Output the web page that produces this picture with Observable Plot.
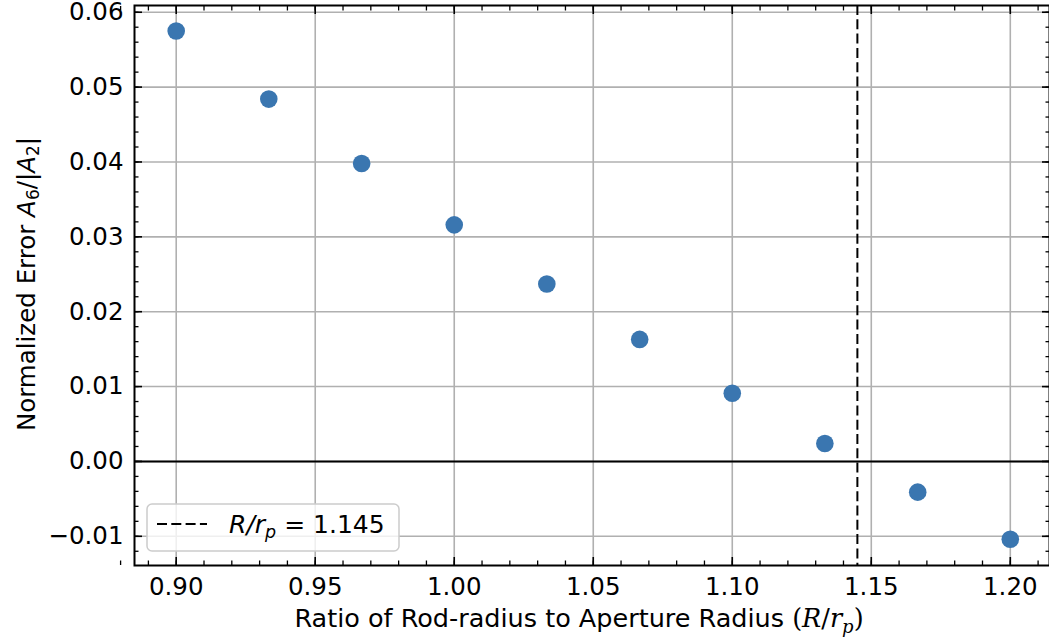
<!DOCTYPE html>
<html>
<head>
<meta charset="utf-8">
<script src="https://cdn.jsdelivr.net/npm/d3@7"></script>
<script src="https://cdn.jsdelivr.net/npm/@observablehq/plot@0.6"></script>
<style>
  html, body { margin: 0; padding: 0; background: #fff; }
  #chart svg { display: block; overflow: visible; }
</style>
</head>
<body>
<div id="chart"></div>
<script>
// ---- data ----
const ratio = [0.9, 0.9333, 0.9667, 1.0, 1.0333, 1.0667, 1.1, 1.1333, 1.1667, 1.2];
const normError = [0.0575, 0.0484, 0.0398, 0.0316, 0.0237, 0.0163, 0.0091, 0.0024, -0.0041, -0.0104];
const xTicks = [0.90, 0.95, 1.00, 1.05, 1.10, 1.15, 1.20];
const yTicks = [-0.01, 0.00, 0.01, 0.02, 0.03, 0.04, 0.05, 0.06];
const threshold = [1.145];
const legendLabel = "= 1.145";

const xMinor = d3.range(88, 122).map(d => d / 100);
const yMinor = d3.range(-6, 31).map(d => d / 500);

const points = ratio.map((r, i) => ({x: r, y: normError[i]}));

const W = 1049, H = 643;
const fontFamily = "DejaVu Sans, sans-serif";
const fmt = d3.format(".2f");
const dash = "10,4.3";

const plot = Plot.plot({
  width: W,
  height: H,
  marginLeft: 134,
  marginRight: 0,
  marginTop: 5,
  marginBottom: 78,
  style: {fontFamily, background: "#fff", color: "#000", overflow: "visible"},
  x: {domain: [0.885, 1.2141], label: null},
  y: {domain: [-0.0139, 0.0609], label: null},
  marks: [
    Plot.ruleX(xTicks, {stroke: "#b0b0b0", strokeWidth: 1.6}),
    Plot.ruleY(yTicks, {stroke: "#b0b0b0", strokeWidth: 1.6}),
    Plot.ruleY([0], {stroke: "#000", strokeWidth: 2}),
    Plot.ruleX(threshold, {stroke: "#000", strokeWidth: 2, strokeDasharray: dash}),
    Plot.dot(points, {x: "x", y: "y", r: 8.8, fill: "#3a76b0", stroke: "none"}),
    // inward minor ticks
    Plot.axisX({anchor: "bottom", ticks: xMinor, tickSize: -4.5, tickFormat: () => "", label: null, strokeWidth: 1.3}),
    Plot.axisX({anchor: "top", ticks: xMinor, tickSize: -4.5, tickFormat: () => "", label: null, strokeWidth: 1.3}),
    Plot.axisY({anchor: "left", ticks: yMinor, tickSize: -4.5, tickFormat: () => "", label: null, strokeWidth: 1.3}),
    Plot.axisY({anchor: "right", ticks: yMinor, tickSize: -4.5, tickFormat: () => "", label: null, strokeWidth: 1.3}),
    // inward major ticks
    Plot.axisX({anchor: "bottom", ticks: xTicks, tickSize: -8, tickFormat: () => "", label: null, strokeWidth: 1.6}),
    Plot.axisX({anchor: "top", ticks: xTicks, tickSize: -8, tickFormat: () => "", label: null, strokeWidth: 1.6}),
    Plot.axisY({anchor: "left", ticks: yTicks, tickSize: -8, tickFormat: () => "", label: null, strokeWidth: 1.6}),
    Plot.axisY({anchor: "right", ticks: yTicks, tickSize: -8, tickFormat: () => "", label: null, strokeWidth: 1.6}),
    // tick labels
    Plot.axisX({anchor: "bottom", ticks: xTicks, tickSize: 0, tickPadding: 12, tickFormat: fmt, label: null, fontSize: 24.5, fill: "#000"}),
    Plot.axisY({anchor: "left", ticks: yTicks, tickSize: 0, tickPadding: 11, tickFormat: fmt, label: null, fontSize: 24.5, fill: "#000"}),
    Plot.frame({stroke: "#000", strokeWidth: 2})
  ]
});

document.getElementById("chart").appendChild(plot);

const svg = d3.select(plot);
const serif = "DejaVu Serif, serif";

// x-axis label with math part
const xl = svg.append("text")
  .attr("x", 579)
  .attr("y", 627)
  .attr("text-anchor", "middle")
  .attr("font-family", fontFamily)
  .attr("font-size", 25.5)
  .attr("fill", "#000");
xl.append("tspan").text("Ratio of Rod-radius to Aperture Radius ");
xl.append("tspan").attr("font-family", serif).text("(");
xl.append("tspan").attr("font-family", serif).attr("font-style", "italic").text("R");
xl.append("tspan").attr("font-family", serif).text("/");
xl.append("tspan").attr("font-family", serif).attr("font-style", "italic").text("r");
xl.append("tspan").attr("font-family", serif).attr("font-style", "italic").attr("font-size", 18).attr("dy", 6).text("p");
xl.append("tspan").attr("font-family", serif).attr("dy", -6).text(")");

// y-axis label
const yl = svg.append("text")
  .attr("transform", "translate(35,284) rotate(-90)")
  .attr("text-anchor", "middle")
  .attr("font-family", fontFamily)
  .attr("font-size", 24.5)
  .attr("fill", "#000");
yl.append("tspan").text("Normalized Error ");
yl.append("tspan").attr("font-style", "italic").text("A");
yl.append("tspan").attr("font-size", 17).attr("dy", 4).text("6");
yl.append("tspan").attr("dy", -4).text("/|");
yl.append("tspan").attr("font-style", "italic").text("A");
yl.append("tspan").attr("font-size", 17).attr("dy", 4).text("2");
yl.append("tspan").attr("dy", -4).text("|");

// legend
const lg = svg.append("g");
lg.append("rect")
  .attr("x", 147).attr("y", 504).attr("width", 252).attr("height", 47)
  .attr("rx", 5).attr("fill", "#fff").attr("fill-opacity", 0.8)
  .attr("stroke", "#cccccc").attr("stroke-width", 1.5);
lg.append("line")
  .attr("x1", 157).attr("x2", 207).attr("y1", 524).attr("y2", 524)
  .attr("stroke", "#000").attr("stroke-width", 2).attr("stroke-dasharray", dash);
const lt = lg.append("text")
  .attr("x", 229).attr("y", 533)
  .attr("text-anchor", "start")
  .attr("font-family", fontFamily).attr("font-size", 25).attr("fill", "#000");
lt.append("tspan").attr("font-style", "italic").text("R");
lt.append("tspan").attr("font-style", "italic").text("/");
lt.append("tspan").attr("font-style", "italic").text("r");
lt.append("tspan").attr("font-style", "italic").attr("font-size", 17.5).attr("dy", 5).text("p");
lt.append("tspan").attr("dy", -5).text(" " + legendLabel);
</script>
</body>
</html>
